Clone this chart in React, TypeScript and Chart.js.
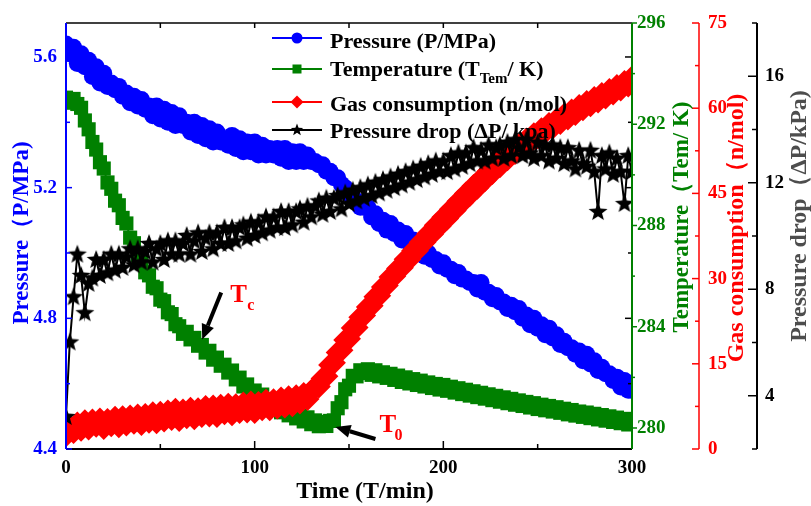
import React, { useEffect, useRef } from "react";
import { Chart, registerables } from "chart.js";

Chart.register(...registerables);

// ---------- data ----------
const TIME_MIN = [
  0, 2, 4, 6, 8, 10, 12, 14, 16, 18,
  20, 22, 24, 26, 28, 30, 32, 34, 36, 38,
  40, 42, 44, 46, 48, 50, 52, 54, 56, 58,
  60, 62, 64, 66, 68, 70, 72, 74, 76, 78,
  80, 82, 84, 86, 88, 90, 92, 94, 96, 98,
  100, 102, 104, 106, 108, 110, 112, 114, 116, 118,
  120, 122, 124, 126, 128, 130, 132, 134, 136, 138,
  140, 142, 144, 146, 148, 150, 152, 154, 156, 158,
  160, 162, 164, 166, 168, 170, 172, 174, 176, 178,
  180, 182, 184, 186, 188, 190, 192, 194, 196, 198,
  200, 202, 204, 206, 208, 210, 212, 214, 216, 218,
  220, 222, 224, 226, 228, 230, 232, 234, 236, 238,
  240, 242, 244, 246, 248, 250, 252, 254, 256, 258,
  260, 262, 264, 266, 268, 270, 272, 274, 276, 278,
  280, 282, 284, 286, 288, 290, 292, 294, 296, 298,
  300,
];

const PRESSURE_MPA = [
  5.64, 5.61, 5.63, 5.58, 5.61, 5.57, 5.59, 5.54, 5.57, 5.52,
  5.55, 5.51, 5.52, 5.50, 5.51, 5.48, 5.49, 5.46, 5.48, 5.45,
  5.47, 5.44, 5.45, 5.42, 5.45, 5.41, 5.44, 5.40, 5.43, 5.39,
  5.42, 5.39, 5.40, 5.37, 5.40, 5.36, 5.39, 5.35, 5.38, 5.34,
  5.37, 5.34, 5.35, 5.33, 5.36, 5.32, 5.35, 5.31, 5.34, 5.31,
  5.34, 5.30, 5.33, 5.30, 5.32, 5.30, 5.32, 5.29, 5.32, 5.28,
  5.31, 5.28, 5.31, 5.28, 5.30, 5.28, 5.28, 5.27, 5.27, 5.25,
  5.25, 5.23, 5.23, 5.21, 5.20, 5.18, 5.17, 5.16, 5.14, 5.14,
  5.14, 5.11, 5.12, 5.09, 5.10, 5.07, 5.09, 5.06, 5.07, 5.04,
  5.06, 5.03, 5.04, 5.01, 5.02, 4.99, 5.00, 4.98, 4.98, 4.96,
  4.97, 4.95, 4.95, 4.93, 4.94, 4.92, 4.92, 4.91, 4.91, 4.89,
  4.91, 4.88, 4.88, 4.86, 4.87, 4.85, 4.85, 4.83, 4.84, 4.82,
  4.83, 4.80, 4.81, 4.78, 4.80, 4.77, 4.78, 4.75, 4.77, 4.74,
  4.75, 4.72, 4.73, 4.71, 4.71, 4.69, 4.70, 4.67, 4.69, 4.66,
  4.67, 4.64, 4.65, 4.63, 4.63, 4.61, 4.62, 4.59, 4.61, 4.58,
  4.58,
];

const TEMPERATURE_K = [
  293.05, 292.85, 293.00, 292.80, 292.65, 292.15, 291.80, 291.30, 291.00, 290.50,
  290.25, 289.70, 289.45, 288.98, 288.80, 288.30, 288.08, 287.52, 287.30, 286.82,
  286.62, 286.15, 286.03, 285.58, 285.52, 285.07, 285.01, 284.57, 284.50, 284.10,
  284.02, 283.72, 283.80, 283.50, 283.56, 283.25, 283.28, 282.98, 283.05, 282.70,
  282.78, 282.46, 282.50, 282.19, 282.27, 281.92, 281.99, 281.64, 281.72, 281.42,
  281.48, 281.20, 281.32, 281.00, 281.12, 280.82, 280.93, 280.62, 280.77, 280.50,
  280.61, 280.38, 280.49, 280.26, 280.42, 280.15, 280.30, 280.07, 280.24, 280.08,
  280.28, 280.30, 280.78, 281.02, 281.53, 281.67, 282.06, 282.04, 282.28, 282.17,
  282.32, 282.10, 282.28, 282.04, 282.20, 281.98, 282.14, 281.90, 282.07, 281.82,
  282.00, 281.76, 281.93, 281.70, 281.87, 281.64, 281.80, 281.58, 281.74, 281.52,
  281.70, 281.47, 281.63, 281.40, 281.57, 281.34, 281.51, 281.28, 281.45, 281.22,
  281.39, 281.16, 281.33, 281.10, 281.27, 281.04, 281.21, 280.98, 281.15, 280.92,
  281.09, 280.87, 281.03, 280.81, 280.98, 280.75, 280.92, 280.70, 280.87, 280.65,
  280.82, 280.60, 280.76, 280.54, 280.71, 280.49, 280.65, 280.44, 280.61, 280.39,
  280.56, 280.34, 280.51, 280.29, 280.46, 280.24, 280.41, 280.19, 280.36, 280.14,
  280.28,
];

const GAS_MOL = [
  2.4, 3.9, 3.0, 4.5, 3.4, 4.9, 3.6, 5.0, 4.1, 5.2,
  3.7, 5.1, 4.2, 5.5, 4.0, 5.6, 4.3, 5.7, 4.6, 5.9,
  4.4, 6.0, 4.8, 6.3, 4.7, 6.4, 5.0, 6.6, 5.3, 6.9,
  5.1, 6.8, 5.6, 7.1, 5.4, 7.0, 5.8, 7.4, 5.9, 7.5,
  5.8, 7.6, 6.3, 7.8, 6.1, 7.7, 6.5, 8.0, 6.6, 8.2,
  6.5, 8.1, 7.0, 8.5, 7.0, 8.6, 7.3, 8.9, 7.5, 9.1,
  7.7, 9.3, 8.2, 9.7, 8.8, 10.2, 10.8, 11.0, 12.4, 12.8,
  14.8, 15.2, 17.0, 17.4, 19.2, 19.4, 21.3, 21.4, 23.2, 23.5,
  25.0, 25.2, 26.8, 27.0, 28.5, 28.8, 30.3, 30.4, 31.8, 31.9,
  33.4, 33.4, 34.9, 34.9, 36.4, 36.4, 37.9, 37.8, 39.4, 39.2,
  40.8, 40.6, 42.2, 42.0, 43.6, 43.4, 45.0, 44.7, 46.3, 46.0,
  47.6, 47.3, 48.9, 48.6, 50.2, 49.8, 51.4, 51.0, 52.5, 52.1,
  53.5, 53.1, 54.5, 54.0, 55.4, 54.9, 56.3, 55.8, 57.2, 56.6,
  58.0, 57.4, 58.8, 58.2, 59.6, 59.0, 60.4, 59.8, 61.1, 60.5,
  61.8, 61.2, 62.5, 61.9, 63.2, 62.6, 63.9, 63.3, 64.6, 64.0,
  65.4,
];

const PRESSURE_DROP_KPA = [
  3.2, 6.0, 7.7, 9.3, 8.5, 7.1, 8.2, 8.4, 9.1, 8.5,
  9.1, 8.6, 9.3, 8.7, 9.3, 8.8, 9.2, 9.5, 8.9, 9.5,
  9.0, 9.4, 9.7, 9.0, 9.5, 9.7, 9.1, 9.8, 9.3, 9.8,
  9.3, 9.7, 10.0, 9.3, 9.8, 10.1, 9.4, 9.9, 10.1, 9.5,
  10.1, 9.7, 10.3, 9.7, 10.3, 9.8, 10.3, 10.4, 9.9, 10.5,
  10.0, 10.5, 10.1, 10.7, 10.2, 10.7, 10.3, 10.9, 10.3, 10.9,
  10.4, 10.9, 11.0, 10.5, 11.1, 10.7, 11.1, 11.3, 10.8, 11.4,
  10.9, 11.4, 11.5, 11.0, 11.6, 11.2, 11.7, 11.3, 11.8, 11.4,
  11.9, 11.5, 12.0, 11.6, 12.1, 11.7, 12.2, 11.8, 12.3, 11.9,
  12.4, 12.0, 12.5, 12.1, 12.6, 12.2, 12.7, 12.3, 12.8, 12.4,
  12.8, 12.4, 13.0, 12.5, 13.1, 12.6, 13.1, 12.7, 13.3, 12.8,
  13.2, 12.8, 13.4, 12.9, 13.3, 13.4, 12.9, 13.5, 13.0, 13.6,
  13.3, 13.0, 13.6, 13.1, 12.9, 13.5, 13.0, 13.4, 12.8, 13.4,
  12.9, 13.3, 12.7, 13.3, 12.8, 12.5, 13.2, 12.7, 12.6, 13.2,
  12.4, 10.9, 13.0, 12.5, 13.1, 12.3, 12.9, 12.4, 11.2, 13.0,
  12.4,
];

// ---------- axes ----------
const X_RANGE = [0, 300];
const X_TICKS = [0, 100, 200, 300];
const X_MINOR = [50, 150, 250];

const P_RANGE = [4.4, 5.704];
const P_TICKS = [4.4, 4.8, 5.2, 5.6];
const P_TICK_LABELS = ["4.4", "4.8", "5.2", "5.6"];
const P_MINOR = [4.6, 5.0, 5.4];

const T_RANGE = [279.17, 296];
const T_TICKS = [280, 284, 288, 292, 296];
const T_MINOR = [282, 286, 290, 294];

const G_RANGE = [0, 75];
const G_TICKS = [0, 15, 30, 45, 60, 75];
const G_MINOR = [7.5, 22.5, 37.5, 52.5, 67.5];

const D_RANGE = [2, 18];
const D_TICKS = [4, 8, 12, 16];
const D_MINOR = [2, 6, 10, 14, 18];

const FONT = "'Liberation Serif', 'Times New Roman', serif";
const BLUE = "#0000ff";
const GREEN = "#008000";
const RED = "#ff0000";
const BLACK = "#000000";
const GRAY = "#4d4d4d";

function starPath(ctx: CanvasRenderingContext2D, cx: number, cy: number, r: number) {
  ctx.beginPath();
  for (let i = 0; i < 10; i++) {
    const rad = i % 2 === 0 ? r : r * 0.42;
    const a = -Math.PI / 2 + (i * Math.PI) / 5;
    const px = cx + rad * Math.cos(a);
    const py = cy + rad * Math.sin(a);
    if (i === 0) ctx.moveTo(px, py);
    else ctx.lineTo(px, py);
  }
  ctx.closePath();
}

function makeStar(r: number, color: string) {
  const c = document.createElement("canvas");
  const s = Math.ceil(r * 2 + 2);
  c.width = s;
  c.height = s;
  const g = c.getContext("2d")!;
  g.fillStyle = color;
  starPath(g, s / 2, s / 2, r);
  g.fill();
  return c;
}

export default function App() {
  const ref = useRef<HTMLCanvasElement>(null);

  useEffect(() => {
    const canvas = ref.current!;
    const star = makeStar(10, BLACK);
    const pts = (vals: number[]) => TIME_MIN.map((t, i) => ({ x: t, y: vals[i] }));

    const tickFont = { family: FONT, size: 19, weight: "bold" as const };
    const noGrid = { display: false, drawTicks: false };
    const setTicks = (arr: number[]) => (s: any) => {
      s.ticks = arr.map((v) => ({ value: v }));
    };

    const line = (ctx: CanvasRenderingContext2D, x1: number, y1: number, x2: number, y2: number, color: string, w: number) => {
      ctx.strokeStyle = color;
      ctx.lineWidth = w;
      ctx.beginPath();
      ctx.moveTo(x1, y1);
      ctx.lineTo(x2, y2);
      ctx.stroke();
    };

    const arrow = (ctx: CanvasRenderingContext2D, x1: number, y1: number, x2: number, y2: number) => {
      const ang = Math.atan2(y2 - y1, x2 - x1);
      const hl = 15;
      const hw = 6.5;
      const bx = x2 - hl * Math.cos(ang);
      const by = y2 - hl * Math.sin(ang);
      line(ctx, x1, y1, bx, by, BLACK, 4);
      ctx.fillStyle = BLACK;
      ctx.beginPath();
      ctx.moveTo(x2, y2);
      ctx.lineTo(bx + hw * Math.sin(ang), by - hw * Math.cos(ang));
      ctx.lineTo(bx - hw * Math.sin(ang), by + hw * Math.cos(ang));
      ctx.closePath();
      ctx.fill();
    };

    const vtitle = (ctx: CanvasRenderingContext2D, text: string, cx: number, cy: number, color: string, size: number) => {
      ctx.save();
      ctx.translate(cx, cy);
      ctx.rotate(-Math.PI / 2);
      ctx.font = `bold ${size}px ${FONT}`;
      ctx.fillStyle = color;
      ctx.textAlign = "center";
      ctx.textBaseline = "middle";
      ctx.fillText(text, 0, 0);
      ctx.restore();
    };

    const decor = {
      id: "decor",
      afterDatasetsDraw(chart: any) {
        const ctx: CanvasRenderingContext2D = chart.ctx;
        const ca = chart.chartArea;
        const sx = chart.scales.x;
        const sp = chart.scales.y;
        const st = chart.scales.yT;
        const sg = chart.scales.yG;
        const sd = chart.scales.yP;
        ctx.save();

        // top frame with inward ticks
        line(ctx, ca.left, ca.top, ca.right, ca.top, BLACK, 1.5);
        [...X_TICKS, ...X_MINOR].forEach((v) => {
          const px = sx.getPixelForValue(v);
          line(ctx, px, ca.top, px, ca.top + 5, BLACK, 1.5);
        });
        // bottom axis
        line(ctx, ca.left, ca.bottom, ca.right, ca.bottom, BLACK, 2);
        X_TICKS.forEach((v) => {
          const px = sx.getPixelForValue(v);
          line(ctx, px, ca.bottom, px, ca.bottom - 8, BLACK, 1.5);
        });
        X_MINOR.forEach((v) => {
          const px = sx.getPixelForValue(v);
          line(ctx, px, ca.bottom, px, ca.bottom - 5, BLACK, 1.5);
        });
        // mirrored pressure ticks at right, inward
        P_TICKS.forEach((v) => {
          const py = sp.getPixelForValue(v);
          line(ctx, ca.right, py, ca.right - 7, py, BLACK, 1.5);
        });
        P_MINOR.forEach((v) => {
          const py = sp.getPixelForValue(v);
          line(ctx, ca.right, py, ca.right - 4, py, BLACK, 1.5);
        });
        // left pressure axis (blue, inward ticks)
        line(ctx, ca.left, ca.top, ca.left, ca.bottom, BLUE, 2);
        P_TICKS.forEach((v) => {
          const py = sp.getPixelForValue(v);
          line(ctx, ca.left, py, ca.left + 6, py, BLUE, 1.5);
        });
        P_MINOR.forEach((v) => {
          const py = sp.getPixelForValue(v);
          line(ctx, ca.left, py, ca.left + 4, py, BLUE, 1.5);
        });
        // temperature axis (green, outward ticks)
        const gx = st.left;
        line(ctx, gx, ca.top, gx, ca.bottom, GREEN, 2);
        T_TICKS.forEach((v) => {
          const py = st.getPixelForValue(v);
          line(ctx, gx, py, gx + 5, py, GREEN, 1.5);
        });
        T_MINOR.forEach((v) => {
          const py = st.getPixelForValue(v);
          line(ctx, gx, py, gx + 3, py, GREEN, 1.5);
        });
        // gas axis (red, ticks to the left)
        const rx = sg.left;
        line(ctx, rx, ca.top, rx, ca.bottom, RED, 1.5);
        G_TICKS.forEach((v) => {
          const py = sg.getPixelForValue(v);
          line(ctx, rx, py, rx - 7, py, RED, 1.5);
        });
        G_MINOR.forEach((v) => {
          const py = sg.getPixelForValue(v);
          line(ctx, rx, py, rx - 4, py, RED, 1.5);
        });
        // pressure drop axis (black, ticks to the left)
        const bx = sd.left;
        line(ctx, bx, ca.top, bx, ca.bottom, BLACK, 2);
        D_TICKS.forEach((v) => {
          const py = sd.getPixelForValue(v);
          line(ctx, bx, py, bx - 9, py, BLACK, 1.5);
        });
        D_MINOR.forEach((v) => {
          const py = sd.getPixelForValue(v);
          line(ctx, bx, py, bx - 5, py, BLACK, 1.5);
        });

        // axis titles
        vtitle(ctx, "Pressure（P/MPa)", 22, 233, BLUE, 23);
        vtitle(ctx, "Temperature（Tem/ K)", 682, 217, GREEN, 23);
        vtitle(ctx, "Gas consumption（n/mol)", 737, 228, RED, 24);
        vtitle(ctx, "Pressure drop（ΔP/kPa)", 800, 216, GRAY, 24);
        ctx.font = `bold 24px ${FONT}`;
        ctx.fillStyle = BLACK;
        ctx.textAlign = "center";
        ctx.textBaseline = "middle";
        ctx.fillText("Time (T/min)", 365, 492);

        // legend
        const lx1 = 272, lx2 = 322, mx = 297, tx = 330;
        const rows = [
          { c: BLUE, y: 38, b: 48, m: "circle" },
          { c: GREEN, y: 69, b: 76, m: "square" },
          { c: RED, y: 102, b: 111, m: "diamond" },
          { c: BLACK, y: 130, b: 138, m: "star" },
        ];
        rows.forEach((r) => {
          line(ctx, lx1, r.y, lx2, r.y, r.c, 2);
          ctx.fillStyle = r.c;
          if (r.m === "circle") {
            ctx.beginPath();
            ctx.arc(mx, r.y, 5.5, 0, Math.PI * 2);
            ctx.fill();
          } else if (r.m === "square") {
            ctx.fillRect(mx - 4.5, r.y - 4.5, 9, 9);
          } else if (r.m === "diamond") {
            ctx.beginPath();
            ctx.moveTo(mx, r.y - 6.5);
            ctx.lineTo(mx + 6.5, r.y);
            ctx.lineTo(mx, r.y + 6.5);
            ctx.lineTo(mx - 6.5, r.y);
            ctx.closePath();
            ctx.fill();
          } else {
            starPath(ctx, mx, r.y, 6.5);
            ctx.fill();
          }
        });
        ctx.fillStyle = BLACK;
        ctx.textAlign = "left";
        ctx.textBaseline = "alphabetic";
        const big = `bold 22px ${FONT}`;
        const small = `bold 15px ${FONT}`;
        ctx.font = big;
        ctx.fillText("Pressure (P/MPa)", tx, rows[0].b);
        let cx = tx;
        ctx.fillText("Temperature (T", cx, rows[1].b);
        cx += ctx.measureText("Temperature (T").width;
        ctx.font = small;
        ctx.fillText("Tem", cx, rows[1].b + 7);
        cx += ctx.measureText("Tem").width;
        ctx.font = big;
        ctx.fillText("/ K)", cx, rows[1].b);
        ctx.fillText("Gas consumption (n/mol)", tx, rows[2].b);
        ctx.fillText("Pressure drop (ΔP/ kpa)", tx, rows[3].b);

        // annotations
        const tcx = sx.getPixelForValue(72.2);
        const tcy = st.getPixelForValue(283.5);
        arrow(ctx, tcx + 19, tcy - 47, tcx, tcy);
        ctx.fillStyle = RED;
        ctx.font = `bold 25px ${FONT}`;
        ctx.fillText("T", tcx + 28, tcy - 37);
        ctx.font = `bold 16px ${FONT}`;
        ctx.fillText("c", tcx + 45, tcy - 29);

        const t0x = sx.getPixelForValue(142.8);
        const t0y = st.getPixelForValue(280.04);
        arrow(ctx, t0x + 40, t0y + 12, t0x, t0y);
        ctx.fillStyle = RED;
        ctx.font = `bold 25px ${FONT}`;
        ctx.fillText("T", t0x + 44, t0y + 5);
        ctx.font = `bold 16px ${FONT}`;
        ctx.fillText("0", t0x + 59, t0y + 13);

        ctx.restore();
      },
    };

    const chart = new Chart(canvas, {
      type: "line",
      data: {
        datasets: [
          {
            label: "Pressure (P/MPa)",
            data: pts(PRESSURE_MPA),
            yAxisID: "y",
            borderColor: BLUE,
            backgroundColor: BLUE,
            borderWidth: 2,
            pointStyle: "circle",
            pointRadius: 8.5,
            pointBorderWidth: 0,
            order: 4,
          },
          {
            label: "Temperature (T_Tem/ K)",
            data: pts(TEMPERATURE_K),
            yAxisID: "yT",
            borderColor: GREEN,
            backgroundColor: GREEN,
            borderWidth: 2,
            pointStyle: "rect",
            pointRadius: 10,
            pointBorderWidth: 0,
            order: 3,
          },
          {
            label: "Gas consumption (n/mol)",
            data: pts(GAS_MOL),
            yAxisID: "yG",
            borderColor: RED,
            backgroundColor: RED,
            borderWidth: 2,
            pointStyle: "rectRot",
            pointRadius: 12,
            pointBorderWidth: 0,
            order: 2,
          },
          {
            label: "Pressure drop (ΔP/ kpa)",
            data: pts(PRESSURE_DROP_KPA),
            yAxisID: "yP",
            borderColor: BLACK,
            backgroundColor: BLACK,
            borderWidth: 2,
            pointStyle: star as any,
            pointRadius: 10,
            pointBorderWidth: 0,
            order: 1,
          },
        ],
      },
      options: {
        responsive: false,
        animation: false,
        devicePixelRatio: 1,
        layout: { padding: { top: 23, left: 0, right: 0, bottom: 0 } },
        plugins: { legend: { display: false }, tooltip: { enabled: false } },
        scales: {
          x: {
            type: "linear",
            position: "bottom",
            min: X_RANGE[0],
            max: X_RANGE[1],
            afterBuildTicks: setTicks(X_TICKS),
            afterFit: (s: any) => { s.height = 57; },
            grid: noGrid,
            border: { display: false },
            ticks: { font: tickFont, color: BLACK, padding: 8, autoSkip: false, maxRotation: 0, callback: (v: any) => String(v) },
          },
          y: {
            type: "linear",
            position: "left",
            min: P_RANGE[0],
            max: P_RANGE[1],
            afterBuildTicks: setTicks(P_TICKS),
            afterFit: (s: any) => { s.width = 66; },
            grid: noGrid,
            border: { display: false },
            ticks: { font: tickFont, color: BLUE, padding: 9, autoSkip: false, callback: (_v: any, i: number) => P_TICK_LABELS[i] },
          },
          yT: {
            type: "linear",
            position: "right",
            weight: 0,
            min: T_RANGE[0],
            max: T_RANGE[1],
            afterBuildTicks: setTicks(T_TICKS),
            afterFit: (s: any) => { s.width = 67; },
            grid: noGrid,
            border: { display: false },
            ticks: { font: tickFont, color: GREEN, padding: 5, autoSkip: false, callback: (v: any) => String(v) },
          },
          yG: {
            type: "linear",
            position: "right",
            weight: 1,
            min: G_RANGE[0],
            max: G_RANGE[1],
            afterBuildTicks: setTicks(G_TICKS),
            afterFit: (s: any) => { s.width = 58; },
            grid: noGrid,
            border: { display: false },
            ticks: { font: tickFont, color: RED, padding: 9, autoSkip: false, callback: (v: any) => String(v) },
          },
          yP: {
            type: "linear",
            position: "right",
            weight: 2,
            min: D_RANGE[0],
            max: D_RANGE[1],
            afterBuildTicks: setTicks(D_TICKS),
            afterFit: (s: any) => { s.width = 54; },
            grid: noGrid,
            border: { display: false },
            ticks: { font: tickFont, color: BLACK, padding: 8, autoSkip: false, callback: (v: any) => String(v) },
          },
        },
      } as any,
      plugins: [decor],
    });

    return () => chart.destroy();
  }, []);

  return (
    <div style={{ position: "absolute", left: 0, top: 0, width: 811, height: 506, background: "#fff" }}>
      <canvas ref={ref} width={811} height={506} style={{ display: "block" }} />
    </div>
  );
}
